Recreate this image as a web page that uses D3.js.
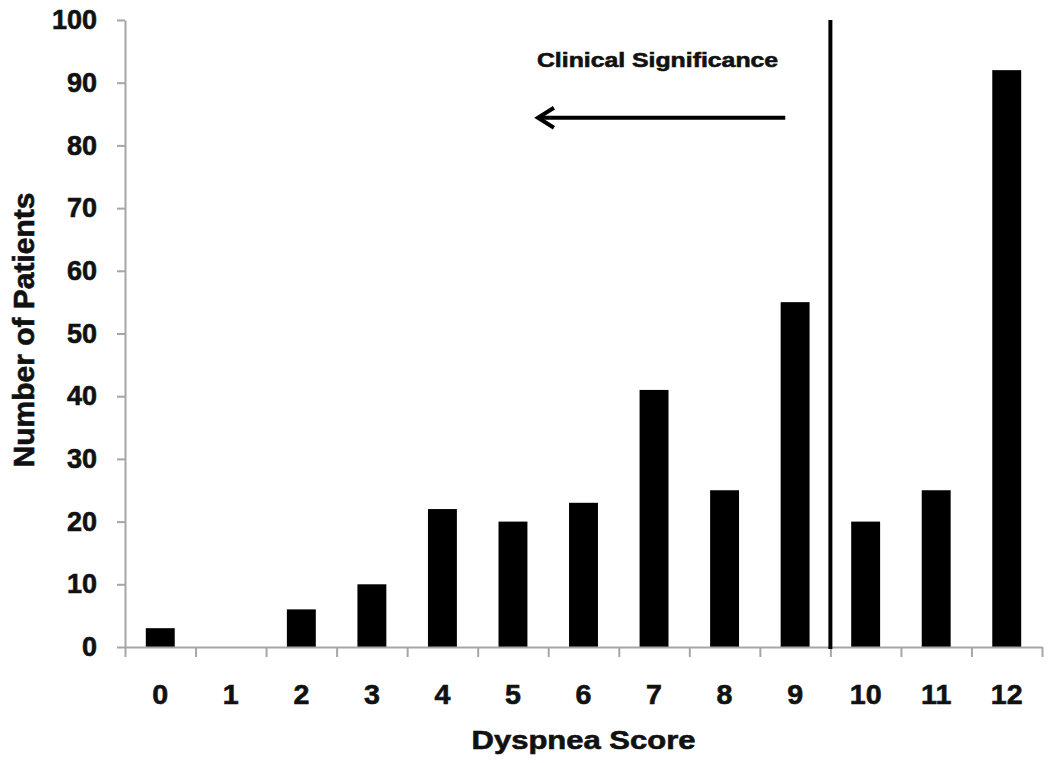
<!DOCTYPE html>
<html><head><meta charset="utf-8">
<script src="https://cdn.jsdelivr.net/npm/d3@7/dist/d3.min.js"></script>
<style>
body{margin:0;background:#fff}
svg text{font-family:"Liberation Sans",Arial,sans-serif;font-weight:bold;fill:#111;stroke:#111;stroke-width:0.6px}
</style>
</head><body>
<svg id="chart" width="1050" height="763"></svg>
<script>
// ---- data ----
const categories = ["0","1","2","3","4","5","6","7","8","9","10","11","12"];
const patients   = [3, 0, 6, 10, 22, 20, 23, 41, 25, 55, 20, 25, 92];
const yTickValues = [0,10,20,30,40,50,60,70,80,90,100];
const xTitle = "Dyspnea Score";
const yTitle = "Number of Patients";
const annotationText = "Clinical Significance";
const thresholdScore = 9.5;          // boundary between score 9 and 10
const arrowFromScore = 8.86, arrowToScore = 5.34, arrowValue = 84.4;
const annotationScore = 5.34, annotationValue = 92.5;

// ---- layout ----
const svg = d3.select("#chart");
const plotLeft = 125, plotRight = 1042, plotTop = 20, plotBottom = 647;
const axisColor = "#a6a6a6";

const x = d3.scaleBand().domain(categories).range([plotLeft, plotRight])
  .paddingInner(0.59).paddingOuter(0.295);
const xs = d3.scaleLinear().domain([-0.5, categories.length - 0.5]).range([plotLeft, plotRight]);
const y = d3.scaleLinear().domain([0, 100]).range([plotBottom, plotTop]);

// bars
svg.append("g").selectAll("rect").data(patients).join("rect")
  .attr("x", (d,i) => x(categories[i]))
  .attr("width", x.bandwidth())
  .attr("y", d => y(d))
  .attr("height", d => y(0) - y(d))
  .attr("fill", "#000");

// y axis
const yAxis = svg.append("g").attr("transform", `translate(${plotLeft},0)`)
  .call(d3.axisLeft(y).tickValues(yTickValues).tickSize(8).tickSizeOuter(0).tickPadding(20));
yAxis.select(".domain").attr("stroke", axisColor).attr("stroke-width", 2);
yAxis.selectAll(".tick line").attr("stroke", axisColor).attr("stroke-width", 2);
yAxis.selectAll(".tick text").style("font-size", "27px").attr("fill", "#111");

// x axis (boundary ticks)
const xAxis = svg.append("g").attr("transform", `translate(0,${plotBottom})`)
  .call(d3.axisBottom(xs).tickValues(d3.range(-0.5, categories.length, 1))
    .tickSize(10).tickSizeOuter(0).tickFormat(""));
xAxis.select(".domain").attr("stroke", axisColor).attr("stroke-width", 2);
xAxis.selectAll(".tick line").attr("stroke", axisColor).attr("stroke-width", 2);

// x category labels
svg.append("g").selectAll("g").data(categories).join("g")
  .attr("transform", d => `translate(${x(d) + x.bandwidth()/2},704) scale(1.06,1)`)
  .append("text").attr("text-anchor", "middle").style("font-size", "27px").text(d => d);

// threshold line
svg.append("line")
  .attr("x1", xs(thresholdScore)).attr("x2", xs(thresholdScore))
  .attr("y1", y(100)).attr("y2", y(0) + 2)
  .attr("stroke", "#000").attr("stroke-width", 4);

// arrow
svg.append("line")
  .attr("x1", xs(arrowFromScore)).attr("x2", xs(arrowToScore) + 2)
  .attr("y1", y(arrowValue)).attr("y2", y(arrowValue))
  .attr("stroke", "#000").attr("stroke-width", 4);
const tipX = xs(arrowToScore), tipY = y(arrowValue);
svg.append("path")
  .attr("d", `M${tipX+17},${tipY-10} L${tipX+1},${tipY} L${tipX+17},${tipY+10}`)
  .attr("fill", "none").attr("stroke", "#000").attr("stroke-width", 4)
  .attr("stroke-linejoin", "miter");

// annotation text
svg.append("g").attr("transform", `translate(${xs(annotationScore)},${y(annotationValue)}) scale(1.21,1)`)
  .append("text").attr("text-anchor", "start").style("font-size", "20.5px").text(annotationText);

// axis titles
svg.append("g").attr("transform", `translate(${(plotLeft+plotRight)/2},749) scale(1.24,1)`)
  .append("text").attr("text-anchor", "middle").style("font-size", "25px").text(xTitle);
svg.append("text")
  .attr("transform", `translate(34,${(193+467)/2}) rotate(-90)`)
  .attr("text-anchor", "middle").style("font-size", "30px").text(yTitle);
</script>
</body></html>
